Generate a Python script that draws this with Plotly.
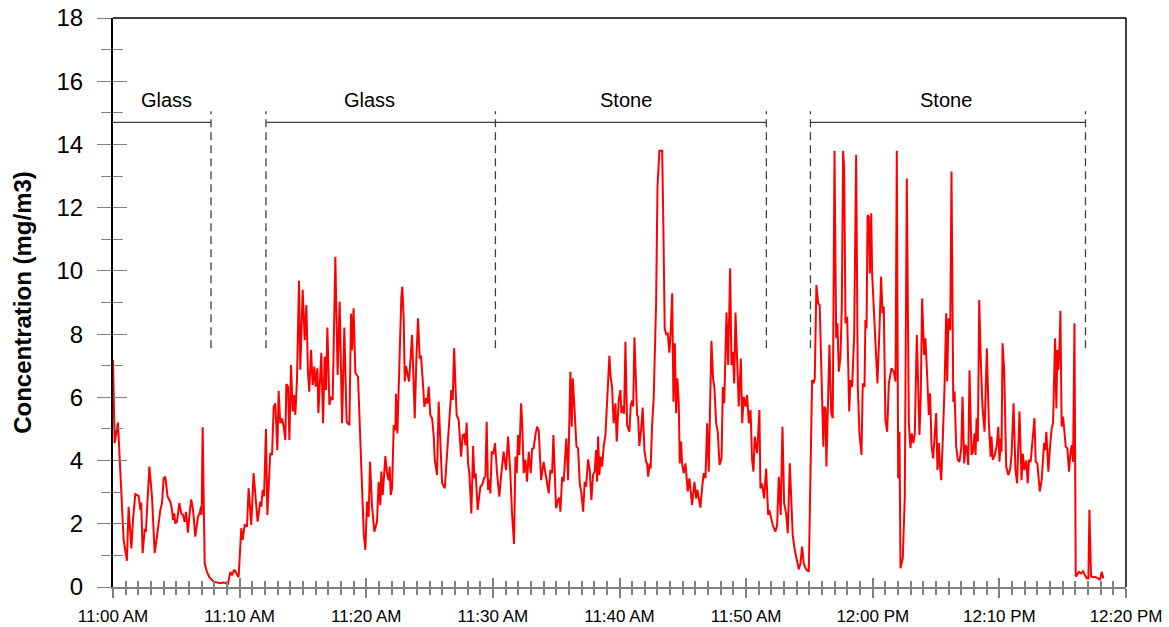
import pandas as pd
import plotly.graph_objects as go

# ---------------- data (minutes after 11:00 AM, concentration mg/m3) ----------------
minutes = [
    0, 0.13, 0.39, 0.58, 0.84, 1.1, 1.23, 1.45, 1.58, 1.76, 2.02, 2.16, 2.23, 2.34, 2.5, 2.6, 2.87, 3.08, 3.29, 3.47,
    3.74, 3.87, 4.0, 4.13, 4.31, 4.53, 4.66, 4.74, 4.84, 4.92, 5.05, 5.24, 5.4, 5.53, 5.66, 5.77, 5.92, 6.05, 6.18, 6.32,
    6.5, 6.71, 6.84, 6.95, 7.0, 7.08, 7.24, 7.42, 7.61, 7.95, 8.48, 8.74, 9.08, 9.27, 9.4, 9.58, 9.79, 9.92,
    10.13, 10.24, 10.4, 10.58, 10.71, 10.92, 11.1, 11.24, 11.42, 11.63, 11.71, 11.82, 11.93, 12.08, 12.19, 12.42, 12.56,
    12.69, 12.82, 12.98, 13.08, 13.21, 13.35, 13.48, 13.61, 13.69, 13.82, 13.93, 14.06, 14.19, 14.3, 14.4, 14.53, 14.69,
    14.79, 14.98, 15.14, 15.27, 15.4, 15.5, 15.64, 15.77, 15.9, 16.0, 16.14, 16.22, 16.32, 16.45, 16.59, 16.72, 16.82,
    16.93, 17.09, 17.22, 17.35, 17.56, 17.74, 17.9, 18.09, 18.27, 18.45, 18.67, 18.8, 18.88, 19.0, 19.14, 19.35, 19.53,
    19.67, 19.8,
    19.93, 20.06, 20.19, 20.3, 20.46, 20.64, 20.85, 20.98, 21.11, 21.19, 21.3, 21.51, 21.64, 21.77, 21.85, 21.93, 22.04,
    22.17, 22.3, 22.35, 22.46, 22.64, 22.77, 22.85, 22.96, 23.04, 23.14, 23.25, 23.38, 23.62, 23.83, 23.96, 24.09, 24.22,
    24.33, 24.46, 24.59, 24.72, 24.83, 24.93, 25.06, 25.2, 25.33, 25.41, 25.59, 25.72, 25.85, 25.99, 26.2, 26.38, 26.56,
    26.72, 26.83, 26.94, 27.04, 27.14, 27.3, 27.49, 27.62, 27.75, 27.83, 27.93, 28.04, 28.14, 28.3, 28.44, 28.54, 28.64,
    28.8, 29.01, 29.14, 29.3, 29.41, 29.51, 29.62, 29.72, 29.8, 29.91, 30.04, 30.17,
    30.33, 30.51, 30.67, 30.85, 31.04, 31.2, 31.38, 31.51, 31.67, 31.78, 31.88, 31.99, 32.09, 32.23, 32.31, 32.43, 32.57,
    32.7, 32.83, 32.99, 33.1, 33.22, 33.36, 33.49, 33.62, 33.81, 34.01, 34.15, 34.28, 34.41, 34.54, 34.68, 34.78, 34.88,
    34.99, 35.15, 35.25, 35.33, 35.47, 35.59, 35.8, 35.94, 36.04, 36.12, 36.23, 36.31, 36.44, 36.6, 36.73, 36.86, 36.99,
    37.13, 37.25, 37.36, 37.52, 37.65, 37.78, 37.91, 38.04, 38.15, 38.23, 38.31, 38.41, 38.51, 38.63, 38.75, 38.89, 39.02,
    39.2, 39.3, 39.41, 39.54, 39.68, 39.78, 39.94, 40.07, 40.15, 40.28, 40.36,
    40.47, 40.6, 40.78, 40.89, 41.0, 41.08, 41.18, 41.31, 41.39, 41.47, 41.57, 41.71, 41.83, 41.97, 42.1, 42.18, 42.26,
    42.39, 42.46, 42.57, 42.7, 42.89, 43.0, 43.15, 43.37, 43.47, 43.57, 43.69, 43.81, 43.94, 44.05, 44.16, 44.26, 44.37,
    44.47, 44.57, 44.68, 44.76, 44.87, 44.94, 45.07, 45.21, 45.28, 45.39, 45.52, 45.66, 45.73, 45.92, 46.05, 46.15, 46.26,
    46.39, 46.52, 46.65, 46.79, 46.92, 47.05, 47.26, 47.39, 47.5, 47.63, 47.76, 47.9, 48.06, 48.16, 48.27, 48.45, 48.58,
    48.74, 48.84, 48.94, 49.06, 49.16, 49.29, 49.42, 49.58, 49.69, 49.81, 49.95, 50.08, 50.21, 50.35, 50.47, 50.58, 50.68,
    50.73, 50.87, 51.05, 51.13, 51.26, 51.42, 51.58, 51.74, 51.84, 51.94, 52.1, 52.31, 52.45, 52.58, 52.73, 52.87, 53.0,
    53.16, 53.29, 53.45, 53.58, 53.68, 53.84, 54.0, 54.16, 54.29, 54.42, 54.55, 54.74, 54.95, 55.08, 55.21, 55.34, 55.42,
    55.55, 55.69, 55.81, 55.92, 56.0, 56.1, 56.18, 56.27, 56.34, 56.48, 56.58, 56.72, 56.84, 56.98, 57.11, 57.21, 57.32,
    57.45, 57.56, 57.66, 57.74, 57.85, 57.98, 58.14, 58.24, 58.37, 58.53, 58.69, 58.82, 58.95, 59.11, 59.21, 59.35, 59.42,
    59.51, 59.59, 59.69, 59.77, 59.88, 59.95, 60.11, 60.27, 60.37, 60.53, 60.66, 60.77, 60.87,
    61.0, 61.14, 61.27, 61.48, 61.66, 61.8, 61.9, 62.01, 62.11, 62.19, 62.37, 62.53, 62.69, 62.85, 62.98, 63.08, 63.21,
    63.32, 63.48, 63.59, 63.69, 63.79, 63.9, 64.06, 64.16, 64.3, 64.43, 64.53, 64.64, 64.77, 64.9, 65.01, 65.11, 65.22,
    65.3, 65.41, 65.53, 65.67, 65.8, 65.88, 65.98, 66.12, 66.22, 66.36, 66.46, 66.59, 66.72, 66.85, 66.99, 67.09, 67.22,
    67.33, 67.43, 67.54, 67.64, 67.8, 67.91, 68.04, 68.12, 68.2, 68.3, 68.41, 68.54, 68.67, 68.83, 69.01, 69.17, 69.31,
    69.38, 69.48, 69.64, 69.8, 69.91, 70.01, 70.11, 70.17, 70.25, 70.38, 70.54, 70.7, 70.86, 70.96, 71.12,
    71.27, 71.4, 71.59, 71.75, 71.86, 71.97, 72.13, 72.24, 72.34, 72.47, 72.61, 72.77, 72.87, 73.0, 73.19, 73.34, 73.53,
    73.61, 73.71, 73.87, 74.0, 74.13, 74.24, 74.4, 74.5, 74.58, 74.66, 74.74, 74.82, 74.92, 75.03, 75.13, 75.24, 75.37,
    75.5, 75.61, 75.71, 75.82, 75.93, 76.03, 76.16, 76.29, 76.45, 76.61, 76.76, 76.92, 77.03, 77.11, 77.24, 77.4, 77.6,
    77.82, 77.95, 78.08, 78.21,
]

conc = [
    7.18, 4.55, 5.2, 3.6, 1.49, 0.83, 2.54, 1.22, 2.12, 2.94, 2.88, 2.44, 2.67, 1.07, 1.8, 1.78, 3.81, 2.86, 1.07, 1.59,
    2.44, 2.65, 3.44, 3.49, 2.86, 2.7, 2.44, 2.12, 2.33, 2.01, 2.06, 2.65, 2.31, 2.28, 2.06, 2.38, 1.72, 2.33, 2.77, 2.44,
    1.59, 2.22, 2.33, 2.54, 2.28, 5.05, 0.75, 0.48, 0.31, 0.17, 0.12, 0.14, 0.1, 0.48, 0.37, 0.55, 0.37, 0.31,
    1.86, 1.49, 1.96, 1.91, 3.12, 1.96, 3.6, 2.96, 2.07, 2.7, 2.54, 3.07, 2.86, 5.0, 2.28, 4.23, 4.18,
    5.7, 5.81, 4.33, 6.21, 5.18, 5.33, 5.07, 4.65, 6.42, 6.34, 4.65, 7.02, 5.55, 6.07, 5.44, 6.55, 9.69,
    6.87, 9.4, 7.81, 8.92, 6.76, 6.18, 7.5, 6.39, 6.97, 6.34, 6.92, 5.5, 6.55, 7.41, 5.18, 7.29, 6.23,
    8.21, 5.76, 6.02, 5.92, 10.45, 6.71, 9.03, 5.18, 8.21, 5.23, 5.12, 8.64, 7.5, 8.82, 6.78, 6.65, 4.65,
    2.96, 1.7,
    1.17, 2.7, 2.22, 3.96, 2.54, 1.75, 2.07, 3.33, 2.59, 3.65, 2.91, 4.14, 3.6, 3.38, 3.81, 2.91, 3.12,
    5.12, 4.97, 6.11, 4.86, 7.71, 9.18, 9.5, 8.45, 6.5, 6.99, 6.76, 6.5, 7.97, 5.34, 7.23, 8.5, 7.26,
    7.28, 6.55, 5.7, 5.97, 5.8, 6.34, 5.44, 5.34, 4.76, 4.02, 3.54, 5.86, 4.55, 3.28, 3.12, 4.12, 5.23,
    6.23, 5.92, 7.55, 6.44, 5.44, 5.28, 4.12, 4.81, 4.83, 4.49, 5.2, 3.91, 3.6, 2.33, 4.46, 3.44, 3.6,
    2.44, 3.17, 3.22, 3.44, 3.49, 5.23, 3.07, 3.41, 2.96, 4.26, 4.23, 4.55,
    3.6, 2.86, 3.6, 4.28, 3.7, 4.76, 3.6, 2.33, 1.36, 4.12, 3.6, 4.81, 4.18, 5.81, 5.28, 3.6, 4.02,
    3.33, 4.28, 3.6, 4.37, 4.39, 4.81, 5.07, 4.95, 3.38, 3.96, 3.6, 3.23, 2.96, 3.7, 3.6, 4.81, 3.6,
    2.49, 2.77, 2.83, 2.38, 3.49, 3.33, 4.7, 3.38, 4.86, 6.81, 5.07, 6.6, 5.7, 4.44, 4.39, 3.28, 2.96,
    2.38, 3.33, 3.17, 4.04, 3.7, 2.75, 3.54, 3.65, 4.33, 3.33, 4.76, 3.54, 4.12, 3.81, 4.44, 4.81, 5.92,
    7.31, 6.65, 6.33, 5.18, 5.81, 4.6, 5.92, 6.23, 5.5, 5.73, 5.48,
    7.76, 5.12, 4.91, 5.76, 5.9, 5.71, 7.9, 6.13, 5.44, 5.39, 4.46, 4.97, 5.68, 4.33, 3.96, 3.91, 3.49,
    3.91, 3.75, 5.07, 5.97, 8.97, 12.66, 13.8, 13.8, 11.29, 8.18, 8.0, 8.02, 7.41, 8.12, 9.29, 5.86, 7.71,
    5.5, 6.6, 5.81, 3.91, 4.6, 3.91, 3.6, 3.91, 3.49, 3.02, 3.44, 2.96, 2.6, 3.33, 2.8, 3.07, 2.86,
    2.51, 3.12, 3.6, 3.44, 5.18, 3.65, 7.79, 6.6, 6.28, 5.18, 4.91, 3.86, 4.07, 6.33, 5.81, 8.68, 7.02,
    10.08, 7.02, 7.44, 6.44, 8.68, 7.18, 5.71, 7.23, 5.18, 6.02, 5.71, 6.07, 5.18, 5.6, 4.02, 3.65, 4.76,
    4.6, 4.23, 5.6, 3.12, 3.28, 2.8, 3.75, 2.28, 2.43, 2.22, 1.96, 1.75, 1.96, 3.49, 2.28, 5.07, 2.65,
    2.33, 1.7, 3.91, 2.33, 1.64, 1.17, 0.8, 0.56, 0.74, 1.28, 0.74, 0.56, 0.48, 3.91, 6.55, 6.44, 6.6,
    9.55, 8.97, 8.92, 7.29, 6.65, 4.44, 5.7, 5.65, 3.81, 6.02, 7.66, 5.5, 5.34, 13.8, 7.87, 8.34, 6.81,
    7.29, 8.97, 13.8, 13.29, 8.34, 8.55, 5.55, 6.55, 6.33, 7.92, 13.67, 6.33, 4.86, 4.18, 6.44, 6.33, 8.45,
    8.18, 11.77, 11.71, 9.92, 11.82, 9.92, 8.55, 7.18, 6.44, 8.13, 9.82, 8.66, 8.87,
    5.28, 4.91, 6.44, 6.92, 6.81, 6.5, 13.8, 3.44, 4.91, 0.59, 0.9, 2.86, 12.92, 5.18, 4.39, 4.86, 4.55,
    4.86, 7.97, 5.81, 4.81, 6.02, 9.13, 7.34, 7.87, 6.65, 5.44, 6.13, 4.49, 4.07, 4.97, 5.5, 3.7, 4.55,
    3.86, 3.38, 4.65, 6.34, 8.66, 6.5, 8.5, 8.13, 13.14, 5.86, 6.18, 4.44, 4.02, 3.96, 4.39, 6.02, 3.91,
    4.49, 4.39, 3.86, 6.86, 4.18, 4.28, 4.86, 4.18, 5.34, 4.6, 9.08, 7.05, 5.68, 4.91, 7.55, 5.18, 4.12,
    4.76, 4.02, 4.18, 4.49, 5.07, 3.96, 4.7, 4.28, 7.71, 6.86, 3.81, 3.54, 3.75, 4.18, 5.81,
    3.7, 3.28, 5.55, 3.38, 4.21, 3.7, 4.0, 3.28, 4.02, 3.96, 4.55, 5.34, 3.96, 3.91, 3.02, 3.38, 4.55,
    4.33, 4.91, 3.65, 4.44, 5.02, 5.18, 7.87, 5.65, 7.5, 6.86, 7.45, 8.74, 5.07, 5.39, 5.02, 4.44, 4.39,
    3.65, 4.23, 4.49, 3.96, 8.34, 0.33, 0.43, 0.48, 0.43, 0.5, 0.37, 0.27, 0.27, 2.44, 0.33, 0.33, 0.31,
    0.27, 0.22, 0.48, 0.27,
]

START = "2000-01-01 11:00"
END_MIN = 80

# Phase brackets (minutes after start)
phase_labels = ["Glass", "Glass", "Stone", "Stone"]
phase_start_min = [0, 12.08, 30.2, 55.08]
phase_end_min = [7.74, 30.2, 51.6, 76.8]
phase_label_min = [4.21, 20.26, 40.54, 65.78]
divider_min = [7.74, 12.08, 30.2, 51.6, 55.08, 76.8]
bracket_level = 14.7
label_level = 15.42
divider_top = 15.05
divider_bottom = 7.55

y_range = [0, 18]
y_major = 2
y_minor = 1
x_major_min = 10
x_minor_min = 1
y_title = "Concentration (mg/m3)"

# ---------------- build ----------------
t0 = pd.Timestamp(START)


def tm(m):
    return t0 + pd.Timedelta(minutes=m)


times = [tm(m) for m in minutes]
x_range = [tm(0), tm(END_MIN)]

FONT = "Arial, Liberation Sans, sans-serif"
TICKGREY = "#808080"

fig = go.Figure()
fig.add_trace(go.Scatter(x=times, y=conc, mode="lines",
                         line=dict(color="#FF0000", width=2),
                         showlegend=False, hoverinfo="x+y"))
# invisible copy on overlay axes (used to draw the inner half of the crossing ticks)
fig.add_trace(go.Scatter(x=times, y=conc, mode="lines", xaxis="x2", yaxis="y2",
                         line=dict(color="rgba(0,0,0,0)", width=0),
                         showlegend=False, hoverinfo="skip"))

shapes = []
for s, e in zip(phase_start_min, phase_end_min):
    shapes.append(dict(type="line", xref="x", yref="y", x0=tm(s), x1=tm(e),
                       y0=bracket_level, y1=bracket_level,
                       line=dict(color="#404040", width=1.3)))
for d in divider_min:
    shapes.append(dict(type="line", xref="x", yref="y", x0=tm(d), x1=tm(d),
                       y0=divider_bottom, y1=divider_top,
                       line=dict(color="#404040", width=1.3, dash="8px,5px")))
# frame top & right
shapes.append(dict(type="line", xref="paper", yref="paper", x0=0, x1=1, y0=1, y1=1,
                   line=dict(color="black", width=1.5)))
shapes.append(dict(type="line", xref="paper", yref="paper", x0=1, x1=1, y0=0, y1=1,
                   line=dict(color="black", width=1.5)))

annotations = []
for lab, m in zip(phase_labels, phase_label_min):
    annotations.append(dict(x=tm(m), y=label_level, xref="x", yref="y", text=lab,
                            showarrow=False, xanchor="center", yanchor="middle",
                            font=dict(family=FONT, size=20, color="black")))

fig.update_layout(
    width=1169, height=627,
    margin=dict(l=113, r=43, t=18, b=40, pad=0),
    paper_bgcolor="white", plot_bgcolor="white",
    font=dict(family=FONT, color="black"),
    showlegend=False,
    shapes=shapes, annotations=annotations,
    xaxis=dict(type="date", range=x_range, showgrid=False, zeroline=False, automargin=False,
               showline=True, linecolor=TICKGREY, linewidth=2,
               ticks="outside", ticklen=9, tickwidth=2, tickcolor=TICKGREY,
               tickmode="linear", tick0=tm(0), dtick=x_major_min * 60000,
               tickformat="%I:%M %p", ticklabelstandoff=4, ticklabeloverflow="allow",
               tickfont=dict(family=FONT, size=17, color="black"),
               minor=dict(ticks="outside", ticklen=6, tickwidth=2, tickcolor=TICKGREY,
                          tickmode="linear", tick0=tm(0), dtick=x_minor_min * 60000,
                          showgrid=False)),
    xaxis2=dict(type="date", range=x_range, overlaying="x", anchor="y", side="bottom",
                automargin=False,
                showgrid=False, zeroline=False, showline=False, showticklabels=False,
                ticks="inside", ticklen=9, tickwidth=2, tickcolor=TICKGREY,
                tickmode="linear", tick0=tm(0), dtick=x_major_min * 60000,
                minor=dict(ticks="inside", ticklen=6, tickwidth=2, tickcolor=TICKGREY,
                           tickmode="linear", tick0=tm(0), dtick=x_minor_min * 60000,
                           showgrid=False)),
    yaxis=dict(range=y_range, showgrid=False, zeroline=False, automargin=False,
               showline=True, linecolor="black", linewidth=2,
               ticks="outside", ticklen=14, tickwidth=1.3, tickcolor=TICKGREY,
               tickmode="linear", tick0=0, dtick=y_major, ticklabelstandoff=9,
               ticklabeloverflow="allow",
               tickfont=dict(family=FONT, size=24, color="black"),
               minor=dict(ticks="outside", ticklen=10, tickwidth=1.3, tickcolor=TICKGREY,
                          dtick=y_minor, showgrid=False),
               title=dict(text=y_title, standoff=18,
                          font=dict(family=FONT, size=24, color="black", weight="bold"))),
    yaxis2=dict(range=y_range, overlaying="y", anchor="x", side="left", automargin=False,
                showgrid=False, zeroline=False, showline=False, showticklabels=False,
                ticks="inside", ticklen=14, tickwidth=1.3, tickcolor=TICKGREY,
                tickmode="linear", tick0=0, dtick=y_major,
                minor=dict(ticks="inside", ticklen=10, tickwidth=1.3, tickcolor=TICKGREY,
                           dtick=y_minor, showgrid=False)),
)

# remove the default page margin so the 1169x627 figure fills the window exactly
fig.write_html("out.html",
               config={"displayModeBar": False},
               post_script="document.body.style.margin='0';document.body.style.overflow='hidden';")
